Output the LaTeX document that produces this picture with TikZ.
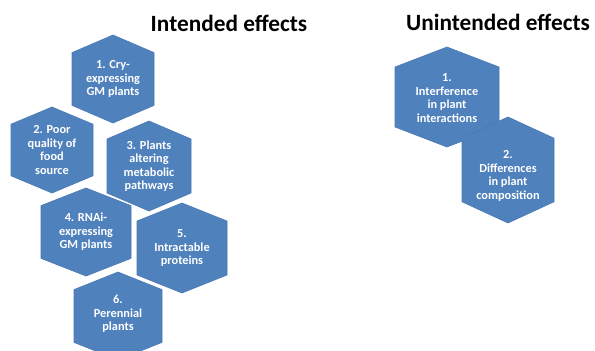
\documentclass[tikz,border=0pt]{standalone}
\usepackage{fontspec}
\setmainfont{Carlito}
\definecolor{hexblue}{HTML}{4F81BD}
\definecolor{hexedge}{HTML}{4A7AB4}

\begin{document}
\begin{tikzpicture}[x=1pt, y=-1pt,
    hexfill/.style={fill=hexblue, draw=hexedge, line width=0.6pt},
    hextext/.style={text=white, align=center, font=\bfseries\fontsize{12.3}{13.4}\selectfont},
    headline/.style={anchor=base, font=\bfseries\fontsize{23.3}{28}\selectfont}]
        \useasboundingbox (0,0) rectangle (595,351);
        \clip (0,0) rectangle (595,351);

        % titles
        \node[headline] (intended) at (229,31) {Intended effects};
        \node[headline] (unintended) at (498,30) {Unintended effects};

        % hexagons: name / centre x / centre y / half width / half height / text shift / text
        \foreach \nm/\cx/\cy/\hw/\hh/\dy/\txt in {
                i1/113/79/41/44/0/{1. Cry-\\expressing\\GM plants},
                i2/52/150/41/43/0/{2. Poor\\quality of\\food\\source},
                i3/149/166/42/45/0/{3. Plants\\altering\\metabolic\\pathways},
                i4/86/232/45/44/0/{4. RNAi-\\expressing\\GM plants},
                i5/182/248/45/45/0/{5.\\Intractable\\proteins},
                i6/118/316/44/44/-2/{6.\\Perennial\\plants},
                u1/447/97/52/50/1/{1.\\Interference\\in plant\\interactions},
                u2/508/170/46/53/6/{2.\\Differences\\in plant\\composition}}
        {
            \filldraw[hexfill] (\cx,\cy) +(0,-\hh) -- +(\hw,-0.6*\hh) -- +(\hw,0.6*\hh)
                -- +(0,\hh) -- +(-\hw,0.6*\hh) -- +(-\hw,-0.6*\hh) -- cycle;
            \node[hextext] (\nm) at (\cx,\cy+\dy) {\txt};
        }
    \end{tikzpicture}
\end{document}
